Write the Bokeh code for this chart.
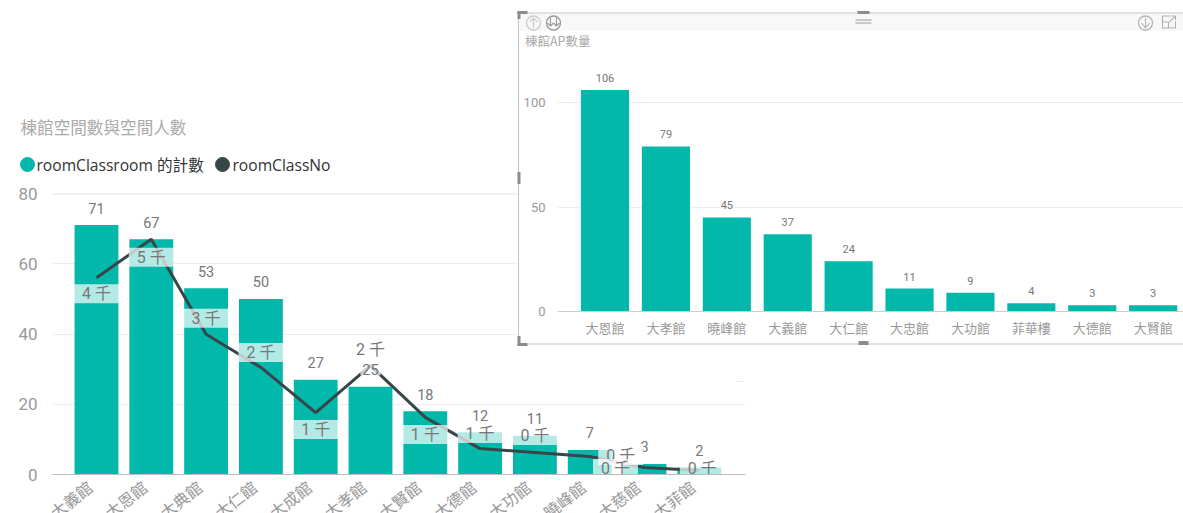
from bokeh.plotting import figure
from bokeh.embed import file_html
from bokeh.resources import INLINE
from bokeh.core.properties import value
from bokeh.models import Range1d, FixedTicker, ColumnDataSource, Span

# ---- data, left chart
room_buildings = ["大義館", "大恩館", "大典館", "大仁館", "大成館", "大孝館", "大賢館", "大德館", "大功館", "大曉峰館", "大慈館", "大菲館"]
room_counts = [71, 67, 53, 50, 27, 25, 18, 12, 11, 7, 3, 2]
room_people = [4100, 4900, 2920, 2230, 1290, 2270, 1190, 540, 460, 375, 146, 83]
room_people_labels = ["4 千", "5 千", "3 千", "2 千", "1 千", "2 千", "1 千", "1 千", "0 千", "0 千", "0 千", "0 千"]
# ---- data, right chart
ap_buildings = ["大恩館", "大孝館", "曉峰館", "大義館", "大仁館", "大忠館", "大功館", "菲華樓", "大德館", "大賢館"]
ap_counts = [106, 79, 45, 37, 24, 11, 9, 4, 3, 3]

TEAL = "#01B8AA"
DARK = "#374649"
NUM = "Roboto, 'Noto Sans CJK TC'"
CJK = "'Noto Sans CJK TC'"

# ---------- left chart
p1 = figure(width=750, height=513, output_backend="svg", toolbar_location=None,
            x_range=Range1d(-0.803, 11.843), y_range=Range1d(0, 80),
            min_border_left=52, min_border_right=5, min_border_top=193, min_border_bottom=39,
            frame_width=693, frame_height=281,
            outline_line_color=None,
            styles={"position": "absolute", "left": "0px", "top": "0px"})
xs = list(range(len(room_counts)))
p1.add_layout(Span(location=80, dimension="width", line_color="#e8e8e8", line_width=2))
p1.segment(x0=[11.66], y0=[26.5], x1=[11.8], y1=[26.5], line_color="#e8e8e8")
p1.vbar(x=xs, top=room_counts, width=0.8, color=TEAL, line_color=None)
p1.extra_y_ranges["people"] = Range1d(0, 5854)
p1.line(x=xs, y=room_people, y_range_name="people", line_color=DARK, line_width=3)
p1.text(x=xs, y=room_counts, text=[str(v) for v in room_counts], text_align="center", text_baseline="middle",
        y_offset=-17, text_color="#777777", text_font=value(NUM), text_font_size="14.5px",
        background_fill_color="white", background_fill_alpha=0.7, padding=(2, 0))
src = ColumnDataSource(dict(x=xs, y=room_people, t=room_people_labels,
                            dx=[0, 0, 0, 0, 0, 0, 0, 0, 0, 31, -29, 3],
                            dy=[16, 18, -16, -15, 17, -16, 17, -15, -17, -1, 1, -2]))
p1.text(x="x", y="y", text="t", source=src, y_range_name="people", x_offset="dx", y_offset="dy",
        text_align="center", text_baseline="middle", text_color="#777777",
        text_font=value(NUM), text_font_size="16px",
        background_fill_color="white", background_fill_alpha=0.7, padding=(8, 0))
label_shift = 0.12  # the rotated labels end a little left of the bar centre
p1.xaxis.ticker = FixedTicker(ticks=[i - label_shift for i in xs])
p1.xaxis.major_label_overrides = {i - label_shift: n for i, n in enumerate(room_buildings)}
p1.xaxis.major_label_orientation = 0.66
p1.xaxis.major_label_standoff = 4
p1.xaxis.major_label_text_font = CJK
p1.xaxis.major_label_text_font_size = "16px"
p1.xaxis.major_label_text_color = "#999999"
p1.xaxis.axis_line_color = "#bbbbbb"
p1.xaxis.major_tick_line_color = None
p1.xaxis.minor_tick_line_color = None
p1.yaxis.ticker = FixedTicker(ticks=[0, 20, 40, 60, 80])
p1.yaxis.major_label_standoff = 9
p1.yaxis.major_label_text_font = NUM
p1.yaxis.major_label_text_font_size = "17px"
p1.yaxis.major_label_text_color = "#999999"
p1.yaxis.axis_line_color = None
p1.yaxis.major_tick_line_color = None
p1.yaxis.minor_tick_line_color = None
p1.xgrid.grid_line_color = None
p1.ygrid.grid_line_color = "#eeeeee"
p1.ygrid.ticker = FixedTicker(ticks=[20, 40, 60])

# ---------- title + legend of the left chart, in page pixels
head = figure(width=500, height=90, output_backend="svg", toolbar_location=None,
              x_range=Range1d(0, 500), y_range=Range1d(190, 100), min_border=0, outline_line_color=None,
              border_fill_alpha=0, background_fill_alpha=0,
              styles={"position": "absolute", "left": "0px", "top": "100px"})
head.axis.visible = False
head.grid.visible = False
head.text(x=[20], y=[126], text=["棟館空間數與空間人數"], text_baseline="middle", text_color="#aaaaaa",
          text_font=value(CJK), text_font_size="16.6px")
head.scatter(x=[27, 222], y=[164, 164], marker="circle", size=14, color=[TEAL, DARK])
head.text(x=[36, 232], y=[164, 164], text=["roomClassroom 的計數", "roomClassNo"], text_baseline="middle",
          text_color="#333333", text_font=value("'Open Sans', 'Noto Sans CJK TC'"), text_font_size="15.6px")

# ---------- panel chrome, drawn in page pixels
chrome = figure(width=667, height=337, output_backend="svg", toolbar_location=None,
                x_range=Range1d(516, 1183), y_range=Range1d(345.5, 8.5),
                min_border=0, outline_line_color=None, border_fill_alpha=0, background_fill_alpha=0,
                styles={"position": "absolute", "left": "516px", "top": "9px"})
chrome.axis.visible = False
chrome.grid.visible = False
chrome.quad(left=518, right=1183, bottom=343, top=12, color="white", line_color=None)
chrome.quad(left=519, right=1183, bottom=30, top=13, color="#f8f8f8", line_color=None)
chrome.segment(x0=[518, 518, 518], y0=[12, 343, 12], x1=[1183, 1183, 518], y1=[12, 343, 343], line_color="#c4c4c4", line_width=1)
H = "#8c8c8c"
chrome.quad(left=[517, 517, 517, 517, 857, 858, 517],
            right=[527, 520, 527, 520, 869, 868, 520],
            top=[10, 10, 342, 335, 10, 340, 171],
            bottom=[13, 18, 345, 345, 13, 344, 183], color=H, line_color=None)
chrome.segment(x0=[855, 855], x1=[871, 871], y0=[19, 22], y1=[19, 22], line_color="#999999")
chrome.circle(x=[533, 553, 1145], y=[22, 22, 22], radius=7, fill_color=None,
              line_color=["#cccccc", "#999999", "#b5b5b5"], line_width=1.3)
chrome.segment(x0=[533, 529, 533, 1145, 1141, 1145], y0=[27, 21, 17, 17, 22, 27],
               x1=[533, 533, 537, 1145, 1145, 1149], y1=[17, 17, 21, 27, 27, 22],
               line_color=["#cccccc", "#cccccc", "#cccccc", "#b5b5b5", "#b5b5b5", "#b5b5b5"], line_width=1.2)
chrome.segment(x0=[550, 556, 547, 550, 553, 556], y0=[17, 17, 22, 25, 22, 25],
               x1=[550, 556, 550, 553, 556, 559], y1=[25, 25, 25, 22, 25, 22], line_color="#999999", line_width=1.1)
chrome.multi_line(xs=[[1170, 1162, 1162, 1175, 1175], [1162, 1168, 1168], [1169, 1175], [1175, 1171], [1175, 1175]],
                  ys=[[15, 15, 27, 27, 20], [21, 21, 27], [21, 15], [15, 15], [15, 19]], line_color="#b0b0b0", line_width=1.1)
chrome.text(x=[524.5], y=[39], text=["棟館AP數量"], text_baseline="middle", text_color="#aaaaaa",
            text_font=value(CJK), text_font_size="12.5px")

# ---------- right chart
p2 = figure(width=667, height=337, output_backend="svg", toolbar_location=None,
            x_range=Range1d(-0.78, 9.498), y_range=Range1d(0, 120.6),
            min_border_left=41, min_border_right=0, min_border_top=50, min_border_bottom=35,
            outline_line_color=None, border_fill_alpha=0, background_fill_alpha=0,
            styles={"position": "absolute", "left": "516px", "top": "9px"})
xs2 = list(range(len(ap_counts)))
p2.vbar(x=xs2, top=ap_counts, width=0.79, color=TEAL, line_color=None)
p2.text(x=xs2, y=ap_counts, text=[str(v) for v in ap_counts], text_align="center", text_baseline="middle",
        y_offset=-12, text_color="#777777", text_font=value(NUM), text_font_size="11px")
p2.xaxis.ticker = FixedTicker(ticks=xs2)
p2.xaxis.major_label_overrides = {i: n for i, n in enumerate(ap_buildings)}
p2.xaxis.major_label_standoff = 0
p2.xaxis.major_label_text_font = CJK
p2.xaxis.major_label_text_font_size = "13px"
p2.xaxis.major_label_text_color = "#999999"
p2.xaxis.axis_line_color = "#cccccc"
p2.xaxis.major_tick_line_color = None
p2.xaxis.minor_tick_line_color = None
p2.yaxis.ticker = FixedTicker(ticks=[0, 50, 100])
p2.yaxis.major_label_standoff = 6
p2.yaxis.major_label_text_font = NUM
p2.yaxis.major_label_text_font_size = "13px"
p2.yaxis.major_label_text_color = "#999999"
p2.yaxis.axis_line_color = None
p2.yaxis.major_tick_line_color = None
p2.yaxis.minor_tick_line_color = None
p2.xgrid.grid_line_color = None
p2.ygrid.grid_line_color = "#eeeeee"
p2.ygrid.ticker = FixedTicker(ticks=[50, 100])

open("out.html", "w").write(file_html([p1, head, chrome, p2], INLINE))
